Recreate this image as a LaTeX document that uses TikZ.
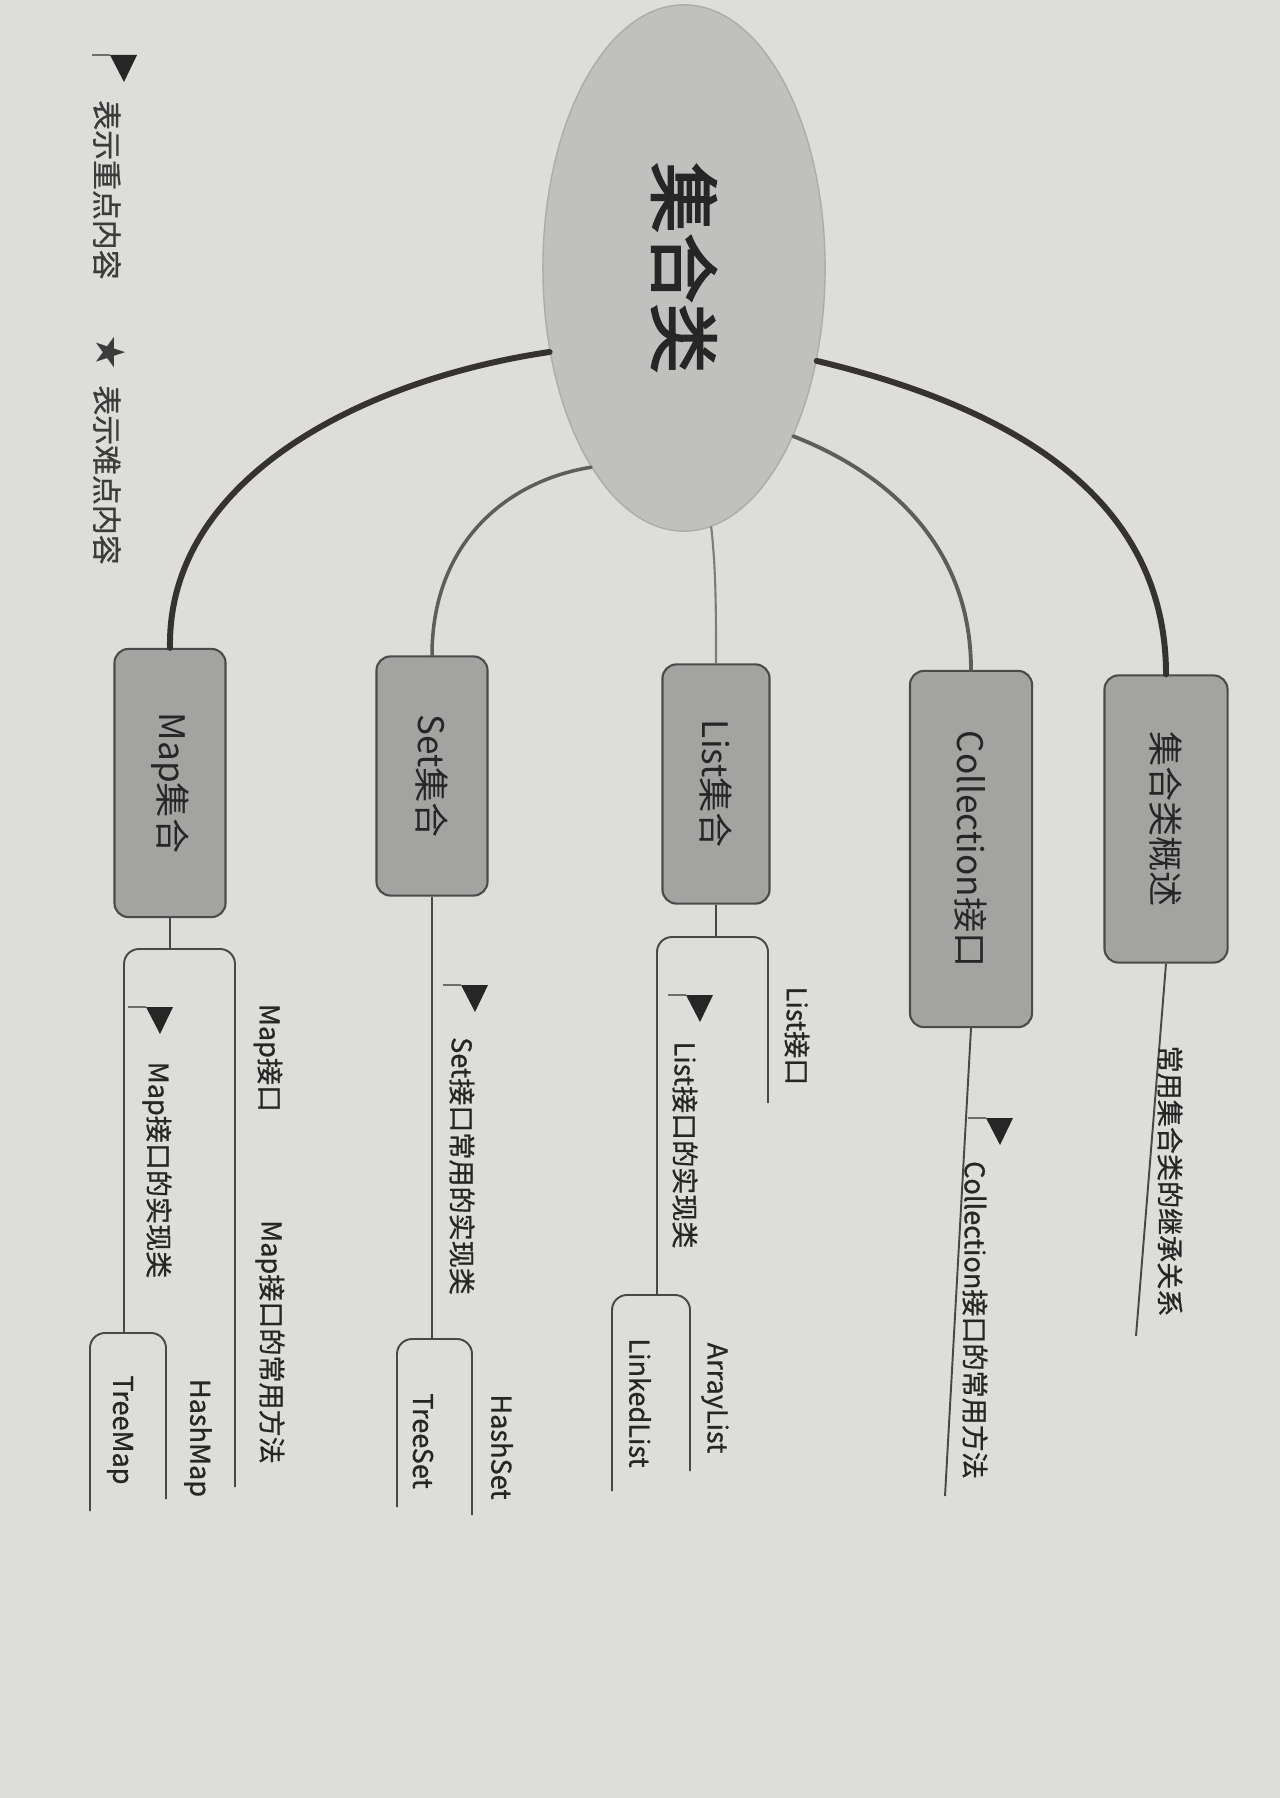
\documentclass[tikz,border=0pt]{standalone}
\usepackage{fontspec}
\newfontfamily\cjk{Noto Sans CJK SC}
\newfontfamily\cjkmid[FakeBold=0.8]{Noto Sans CJK SC}
\newfontfamily\cjkbold[FakeBold=2.5]{Noto Sans CJK SC}
\newfontfamily\symfont{DejaVu Sans}
\usetikzlibrary{shapes.geometric}

\definecolor{paper}{RGB}{221,221,218}
\definecolor{rootgray}{RGB}{192,192,190}
\definecolor{rootedge}{RGB}{172,172,170}
\definecolor{boxgray}{RGB}{163,163,161}
\definecolor{boxedge}{RGB}{75,75,75}
\definecolor{ink}{RGB}{38,38,38}
\definecolor{linegray}{RGB}{72,72,72}
\definecolor{curvedark}{RGB}{55,50,50}
\definecolor{curvemid}{RGB}{95,92,92}
\definecolor{curvelight}{RGB}{125,123,123}

\tikzset{
  root/.style={ellipse, fill=rootgray, draw=rootedge, line width=0.4pt,
    minimum width=2.82cm, minimum height=5.26cm, inner sep=0pt, text=ink},
  branchbox/.style={rectangle, rounded corners=0.14cm, fill=boxgray, draw=boxedge,
    line width=0.6pt, inner sep=0pt, text=ink, font=\cjk\fontsize{10}{12}\selectfont},
  leaf/.style={rotate=-90, inner sep=0pt, text=ink, font=\cjkmid\fontsize{7.7}{9}\selectfont},
  legend/.style={rotate=-90, inner sep=0pt, text=ink!90, font=\cjkmid\fontsize{8.5}{10}\selectfont},
  sub/.style={draw=linegray, line width=0.55pt},
  main/.style={draw=curvedark, line cap=round},
}

\begin{document}
\begin{tikzpicture}[x=0.01cm, y=-0.01cm]
  \useasboundingbox (0,0) rectangle (1280,1798);
  \fill[paper] (0,0) rectangle (1280,1798);

  % legend
  \node[legend] (keytext) at (107,190) {表示重点内容};
  \node[legend, font=\symfont\fontsize{11.5}{12}\selectfont] (starmark) at (111,353) {★};
  \node[legend] (hardtext) at (107,475) {表示难点内容};

  % centre and main branches
  \node[root] (root) at (684,268) {\rotatebox{-90}{\cjkbold\fontsize{20}{20}\selectfont 集合类}};

  \node[branchbox, minimum width=1.11cm, minimum height=2.68cm] (mapbox) at (170,783) {\rotatebox{-90}{Map集合}};
  \node[branchbox, minimum width=1.11cm, minimum height=2.39cm] (setbox) at (432,776) {\rotatebox{-90}{Set集合}};
  \node[branchbox, minimum width=1.07cm, minimum height=2.39cm] (listbox) at (716,784) {\rotatebox{-90}{List集合}};
  \node[branchbox, minimum width=1.22cm, minimum height=3.56cm] (collbox) at (971,849) {\rotatebox{-90}{Collection接口}};
  \node[branchbox, minimum width=1.23cm, minimum height=2.87cm] (gsbox) at (1166,819) {\rotatebox{-90}{集合类概述}};

  \draw[main, line width=1.7pt] (root.212) .. controls (360,380) and (167,480) .. (mapbox.north);
  \draw[main, draw=curvemid, line width=1.0pt] (root.245) .. controls (510,480) and (432,540) .. (setbox.north);
  \draw[main, draw=curvelight, line width=0.6pt] (root.276) .. controls (716,570) and (716,610) .. (listbox.north);
  \draw[main, draw=curvemid, line width=1.1pt] (root.303) .. controls (880,470) and (971,540) .. (collbox.north);
  \draw[main, line width=1.7pt] (root.325) .. controls (980,400) and (1166,480) .. (gsbox.north);

  % 集合类概述
  \coordinate (gsend) at (1136,1336);
  \draw[sub] (gsbox.south) -- (gsend);
  \node[leaf] (gsinherit) at (1170,1181) {常用集合类的继承关系};

  % Collection接口
  \coordinate (collend) at (945,1496);
  \draw[sub] (collbox.south) -- (collend);
  \node[leaf] (collmethods) at (975,1320) {Collection接口的常用方法};

  % List集合
  \coordinate (listfork) at (716,937);
  \coordinate (listA) at (657,1295);
  \coordinate (listB) at (768,1103);
  \coordinate (listC) at (612,1491);
  \coordinate (listD) at (690,1471);
  \draw[sub] (listbox.south) -- (listfork);
  \draw[sub, rounded corners=0.15cm] (listA) -- (listA |- listfork) -- (listB |- listfork) -- (listB);
  \draw[sub, rounded corners=0.15cm] (listC) -- (listC |- listA) -- (listD |- listA) -- (listD);
  \node[leaf] (listif) at (797,1036) {List接口};
  \node[leaf] (listimpl) at (685,1145) {List接口的实现类};
  \node[leaf] (arraylist) at (715,1398) {ArrayList};
  \node[leaf] (linkedlist) at (640,1403) {LinkedList};

  % Set集合
  \coordinate (setfork) at (432,1339);
  \coordinate (setC) at (397,1507);
  \coordinate (setD) at (472,1515);
  \draw[sub] (setbox.south) -- (setfork);
  \draw[sub, rounded corners=0.15cm] (setC) -- (setC |- setfork) -- (setD |- setfork) -- (setD);
  \node[leaf] (setimpl) at (462,1166) {Set接口常用的实现类};
  \node[leaf] (treeset) at (423,1441) {TreeSet};
  \node[leaf] (hashset) at (502,1447) {HashSet};

  % Map集合
  \coordinate (mapfork) at (170,949);
  \coordinate (mapA) at (124,1333);
  \coordinate (mapB) at (235,1487);
  \coordinate (mapC) at (90,1511);
  \coordinate (mapD) at (166,1499);
  \draw[sub] (mapbox.south) -- (mapfork);
  \draw[sub, rounded corners=0.15cm] (mapA) -- (mapA |- mapfork) -- (mapB |- mapfork) -- (mapB);
  \draw[sub, rounded corners=0.15cm] (mapC) -- (mapC |- mapA) -- (mapD |- mapA) -- (mapD);
  \node[leaf] (mapif) at (268,1058) {Map接口};
  \node[leaf] (mapmethods) at (270,1342) {Map接口的常用方法};
  \node[leaf] (mapimpl) at (157,1170) {Map接口的实现类};
  \node[leaf] (treemap) at (120,1430) {TreeMap};
  \node[leaf] (hashmap) at (198,1438) {HashMap};

  % key-point flags
  \foreach \fx/\fy in {92/55, 128/1007, 668/995, 443/985, 968/1118} {
    \draw[sub, draw=linegray!80] (\fx,\fy) -- ++(18,0);
    \fill[ink] (\fx+18,\fy) -- ++(27,0) -- ++(-13,27) -- cycle;
  }
\end{tikzpicture}
\end{document}
